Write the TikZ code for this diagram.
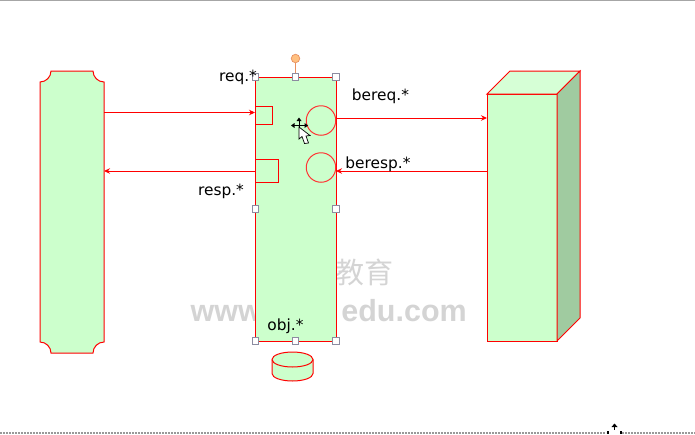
\documentclass[tikz,border=0pt]{standalone}
\usepackage{fontspec}
\setmainfont{DejaVu Sans}
\newfontfamily\cjkwm{Noto Sans CJK SC}
\newfontfamily\latwm{Liberation Sans}
\usetikzlibrary{arrows.meta,shapes.geometric}
\definecolor{boxfill}{HTML}{CCFFCC}
\definecolor{topfill}{HTML}{D6FFD6}
\definecolor{sidefill}{HTML}{A0CBA0}
\definecolor{handleline}{HTML}{8C8CA0}
\definecolor{rotfill}{HTML}{FFC080}
\definecolor{rotline}{HTML}{E89060}
\definecolor{wmtext}{HTML}{D4D4D4}
\tikzset{
  shapeline/.style={draw=red,line width=1pt},
  greenbox/.style={shapeline,fill=boxfill,inner sep=0pt,outer sep=0pt},
  ghost/.style={inner sep=0pt,outer sep=0pt},
  portbox/.style={shapeline,inner sep=0pt,outer sep=0pt,anchor=north west},
  portcircle/.style={draw=red!80!white,line width=1pt,circle,inner sep=0pt,outer sep=0pt,minimum size=29.5pt},
  flow/.style={draw=red,line width=0.9pt,-{Stealth[length=6pt,width=5.5pt]}},
  lbl/.style={inner sep=0pt,font=\fontsize{15.4pt}{17pt}\selectfont,text=black},
  handle/.style={draw=handleline,fill=white,line width=0.8pt,minimum size=6.5pt,inner sep=0pt},
  wmlatin/.style={font=\latwm\bfseries\fontsize{30.5pt}{34pt}\selectfont,text=wmtext,inner sep=0pt},
  wmhan/.style={font=\cjkwm\fontsize{29pt}{31pt}\selectfont,text=wmtext,inner sep=0pt},
}
\begin{document}
\begin{tikzpicture}[x=1pt,y=-1pt]
\useasboundingbox (0,0) rectangle (695,434);
% window rules
\draw[gray!70,line width=0.8pt] (0,0.5) -- (695,0.5);
\draw[gray!80,line width=1.2pt,dash pattern=on 2pt off 1pt] (0,433) -- (606,433);
\draw[gray!80,line width=1.2pt,dash pattern=on 2pt off 1pt] (622,433) -- (695,433);
% watermark
\node[wmhan] (wmcn) at (364,272) {教育};
\node[wmlatin,anchor=base west] (wmurl) at (190.5,321) {www};
\node[wmlatin,anchor=base east] (wmdom) at (467,321) {edu.com};
% left shape
\node[ghost,minimum width=64pt,minimum height=282pt] (client) at (72,212) {};
\path[greenbox] (51,71) -- (93,71) .. controls (93,77) and (98,82) .. (104,82)
  -- (104,342) .. controls (98,342) and (93,347) .. (93,353)
  -- (51,353) .. controls (51,347) and (46,342) .. (40,342)
  -- (40,82) .. controls (46,82) and (51,77) .. (51,71) -- cycle;
% centre box
\node[greenbox,minimum width=81pt,minimum height=264pt] (obj) at (295.5,209) {};
\node[portbox,minimum width=17.5pt,minimum height=18.5pt] (req) at (255,106) {};
\node[portbox,minimum width=23pt,minimum height=23pt] (resp) at (255,159) {};
\node[portcircle] (bereqc) at (321,120.5) {};
\node[portcircle] (berespc) at (321,167.5) {};
% cube
\node[greenbox,minimum width=70pt,minimum height=247pt,anchor=north west] (back) at (487,94) {};
\path[shapeline,fill=topfill] (487,94) -- (510,71) -- (580,71) -- (557,94) -- cycle;
\path[shapeline,fill=sidefill] (557,94) -- (580,71) -- (580,318) -- (557,341) -- cycle;
% cylinder
\node[ghost,minimum width=41pt,minimum height=29pt] (store) at (292.5,366.5) {};
\path[shapeline,fill=boxfill] (272,359.5) -- (272,373.5) .. controls (272,377.7) and (281.2,381) .. (292.5,381)
  .. controls (303.8,381) and (313,377.7) .. (313,373.5) -- (313,359.5)
  .. controls (313,355.3) and (303.8,352) .. (292.5,352)
  .. controls (281.2,352) and (272,355.3) .. (272,359.5) -- cycle;
\draw[shapeline] (272,359.5) .. controls (272,363.7) and (281.2,367) .. (292.5,367)
  .. controls (303.8,367) and (313,363.7) .. (313,359.5);
% connectors
\coordinate (yreq) at (0,112.5);
\coordinate (yresp) at (0,171);
\coordinate (ybereq) at (0,118);
\draw[flow] (client.east |- yreq) -- (obj.west |- yreq);
\draw[flow] (obj.east |- ybereq) -- (back.west |- ybereq);
\draw[flow] (back.west |- yresp) -- (obj.east |- yresp);
\draw[flow] (obj.west |- yresp) -- (client.east |- yresp);
% selection handles
\node[draw=rotline,fill=rotfill,circle,line width=0.7pt,minimum size=8.5pt,inner sep=0pt] (rot) at (295.5,58.5) {};
\node[handle] (h1) at (255.5,77) {};
\node[handle] (h2) at (295.5,77) {};
\node[handle] (h3) at (336,77) {};
\node[handle] (h4) at (255.5,209) {};
\node[handle] (h5) at (336,209) {};
\node[handle] (h6) at (255.5,341) {};
\node[handle] (h7) at (295.5,341) {};
\node[handle] (h8) at (336,341) {};
\draw[rotline,line width=0.8pt] (rot) -- (h2);
% labels
\node[lbl] (lreq) at (238,77) {req.*};
\node[lbl] (lresp) at (221,191) {resp.*};
\node[lbl] (lbereq) at (380.5,96) {bereq.*};
\node[lbl] (lberesp) at (378,164) {beresp.*};
\node[lbl] (lobj) at (285.5,326) {obj.*};
% move cursor
\fill[black] (299,117.5) -- (301.5,121) -- (296.5,121) -- cycle;
\fill[black] (291,125.5) -- (294.5,123) -- (294.5,128) -- cycle;
\fill[black] (308,125.5) -- (304.5,123) -- (304.5,128) -- cycle;
\fill[black] (298.5,120) rectangle (299.5,130);
\fill[black] (293,125) rectangle (306,126);
\path[draw=black,fill=white,line width=0.7pt] (299,127) -- (299,139) -- (302,136.5) -- (304.5,143.5) -- (308.5,143) -- (306,136) -- (310,135.5) -- cycle;
% bottom cursor
\fill[black] (614.5,423.5) -- (617.5,427) -- (611.5,427) -- cycle;
\fill[black] (613.8,426) rectangle (615.2,430);
\fill[black] (607,431) rectangle (609,434);
\fill[black] (620,431) rectangle (622,434);
\end{tikzpicture}
\end{document}
